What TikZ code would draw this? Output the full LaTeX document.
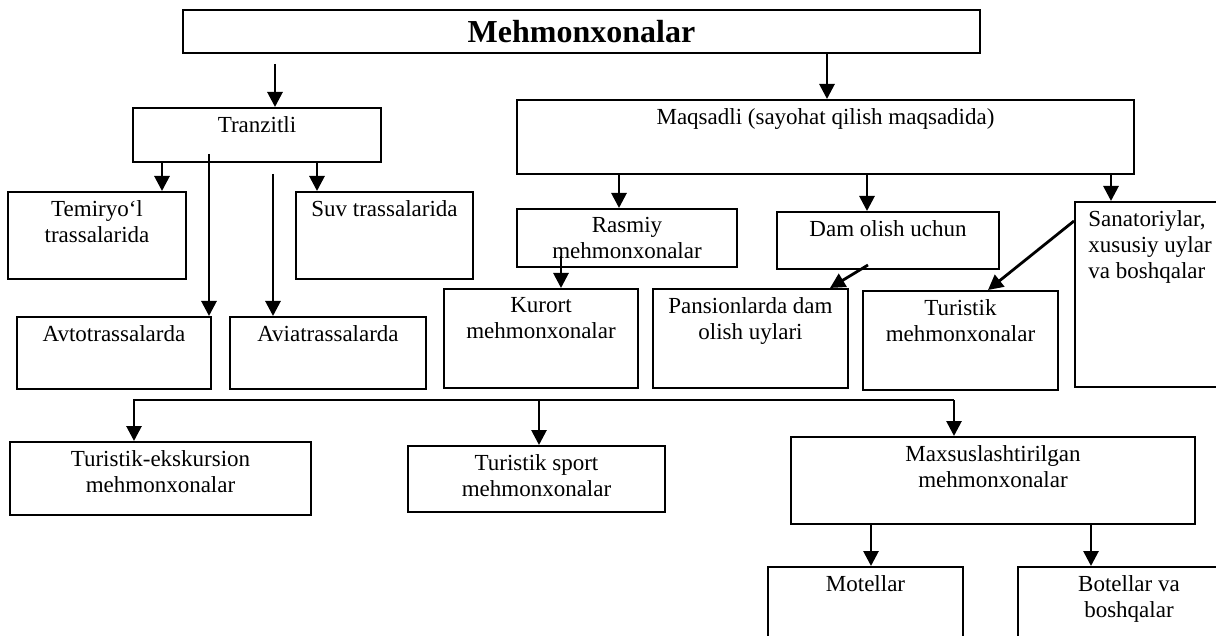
\documentclass[tikz,border=0pt]{standalone}
\usepackage{fontspec}
\setmainfont{Liberation Serif}
\usetikzlibrary{calc,fit,arrows.meta}

\tikzset{
  box/.style={draw, line width=1pt, inner sep=0pt},
  txt/.style={anchor=north, yshift=-4.5pt, align=center, inner sep=0pt,
    font=\fontsize{11.5}{13}\selectfont},
  title/.style={inner sep=0pt, font=\fontsize{16}{18}\selectfont\bfseries},
  arr/.style={line width=1.4pt, -{Triangle[length=7.5pt,width=7.5pt]}},
}

\begin{document}
\begin{tikzpicture}[x=0.5pt,y=-0.5pt]
    \useasboundingbox (0,0) rectangle (1216,636);
    \clip (0,0) rectangle (1216,636);

    % top box
    \node[box, fit={(183,10) (980,53)}] (mehmon) {};
    \node[title] (mehmon-t) at (mehmon.center) {Mehmonxonalar};

    % tranzit branch
    \node[box, fit={(133,108) (381,162)}, label={[txt]north:Tranzitli}] (tranzitli) {};
    \node[box, fit={(8,192) (186,279)}, label={[txt]north:Temiryo‘l\\trassalarida}] (temir) {};
    \node[box, fit={(296,192) (473,279)}, label={[txt]north:Suv trassalarida}] (suv) {};
    \node[box, fit={(17,317) (211,389)}, label={[txt]north:Avtotrassalarda}] (avto) {};
    \node[box, fit={(230,317) (426,389)}, label={[txt]north:Aviatrassalarda}] (avia) {};

    % maqsadli branch
    \node[box, fit={(517,100) (1134,174)}, label={[txt]north:Maqsadli (sayohat qilish maqsadida)}] (maqsad) {};
    \node[box, fit={(517,209) (737,267)}, label={[txt]north:Rasmiy\\mehmonxonalar}] (rasmiy) {};
    \node[box, fit={(777,212) (999,269)}, label={[txt]north:Dam olish uchun}] (dam) {};
    \node[box, fit={(1075,202) (1240,387)},
      label={[txt, anchor=north west, xshift=7pt, align=left]north west:Sanatoriylar,\\xususiy uylar\\va boshqalar}] (sana) {};
    \node[box, fit={(444,289) (638,388)}, label={[txt]north:Kurort\\mehmonxonalar}] (kurort) {};
    \node[box, fit={(653,289) (848,388)}, label={[txt]north:Pansionlarda dam\\olish uylari}] (pansion) {};
    \node[box, fit={(863,291) (1058,390)}, label={[txt]north:Turistik\\mehmonxonalar}] (turistik) {};

    % lower row
    \node[box, fit={(10,442) (311,515)}, label={[txt]north:Turistik-ekskursion\\mehmonxonalar}] (ekskur) {};
    \node[box, fit={(408,446) (665,512)}, label={[txt]north:Turistik sport\\mehmonxonalar}] (sport) {};
    \node[box, fit={(791,437) (1195,524)}, label={[txt]north:Maxsuslashtirilgan\\mehmonxonalar}] (maxsus) {};
    \node[box, fit={(768,567) (963,660)}, label={[txt]north:Motellar}] (motel) {};
    \node[box, fit={(1018,567) (1240,660)}, label={[txt]north:Botellar va\\boshqalar}] (botel) {};

    % arrows from the top
    \coordinate (tr-in) at ([xshift=71.5pt]tranzitli.north west);
    \draw[arr, shorten <=5pt] (mehmon.south -| tr-in) -- (tr-in);
    \coordinate (mq-in) at ([xshift=155.5pt]maqsad.north west);
    \draw[arr] (mehmon.south -| mq-in) -- (mq-in);

    \coordinate (te-in) at ([xshift=77.5pt]temir.north west);
    \draw[arr] (tranzitli.south -| te-in) -- (te-in);
    \coordinate (su-in) at ([xshift=11pt]suv.north west);
    \draw[arr] (tranzitli.south -| su-in) -- (su-in);
    \coordinate (av-in) at ([xshift=-1.5pt]avto.north east);
    \draw[arr] ($(tranzitli.south -| av-in)+(0,4.5pt)$) -- (av-in);
    \coordinate (ai-in) at ([xshift=22pt]avia.north west);
    \draw[arr, shorten <=5.5pt] (tranzitli.south -| ai-in) -- (ai-in);

    \coordinate (ra-in) at ([xshift=51.5pt]rasmiy.north west);
    \draw[arr] (maqsad.south -| ra-in) -- (ra-in);
    \coordinate (da-in) at ([xshift=45.5pt]dam.north west);
    \draw[arr] (maqsad.south -| da-in) -- (da-in);
    \coordinate (sa-in) at ([xshift=18.5pt]sana.north west);
    \draw[arr] (maqsad.south -| sa-in) -- (sa-in);

    \coordinate (ku-in) at ([xshift=59pt]kurort.north west);
    \draw[arr] ($(rasmiy.south -| ku-in)+(0,6pt)$) -- (ku-in);
    \coordinate (pa-in) at ([xshift=-9.5pt]pansion.north east);
    \draw[arr] ($(dam.south west)+(46pt,2.5pt)$) -- (pa-in);
    \coordinate (tu-in) at ([xshift=63pt]turistik.north west);
    \draw[arr] ([yshift=-10pt]sana.north west) -- (tu-in);

    % bus line
    \coordinate (ek-in) at ([xshift=62.5pt]ekskur.north west);
    \coordinate (sp-in) at ([xshift=66pt]sport.north west);
    \coordinate (mx-in) at ([xshift=82pt]maxsus.north west);
    \coordinate (bus-l) at ($(kurort.south -| ek-in)+(0,-5.5pt)$);
    \coordinate (bus-r) at (bus-l -| mx-in);
    \draw[arr] (bus-r) -- (bus-l) -- (ek-in);
    \draw[arr] (bus-l -| sp-in) -- (sp-in);
    \draw[arr] (bus-r) -- (mx-in);

    \coordinate (mo-in) at ([xshift=52pt]motel.north west);
    \draw[arr] (maxsus.south -| mo-in) -- (mo-in);
    \coordinate (bo-in) at ([xshift=37pt]botel.north west);
    \draw[arr] (maxsus.south -| bo-in) -- (bo-in);

\end{tikzpicture}
\end{document}
